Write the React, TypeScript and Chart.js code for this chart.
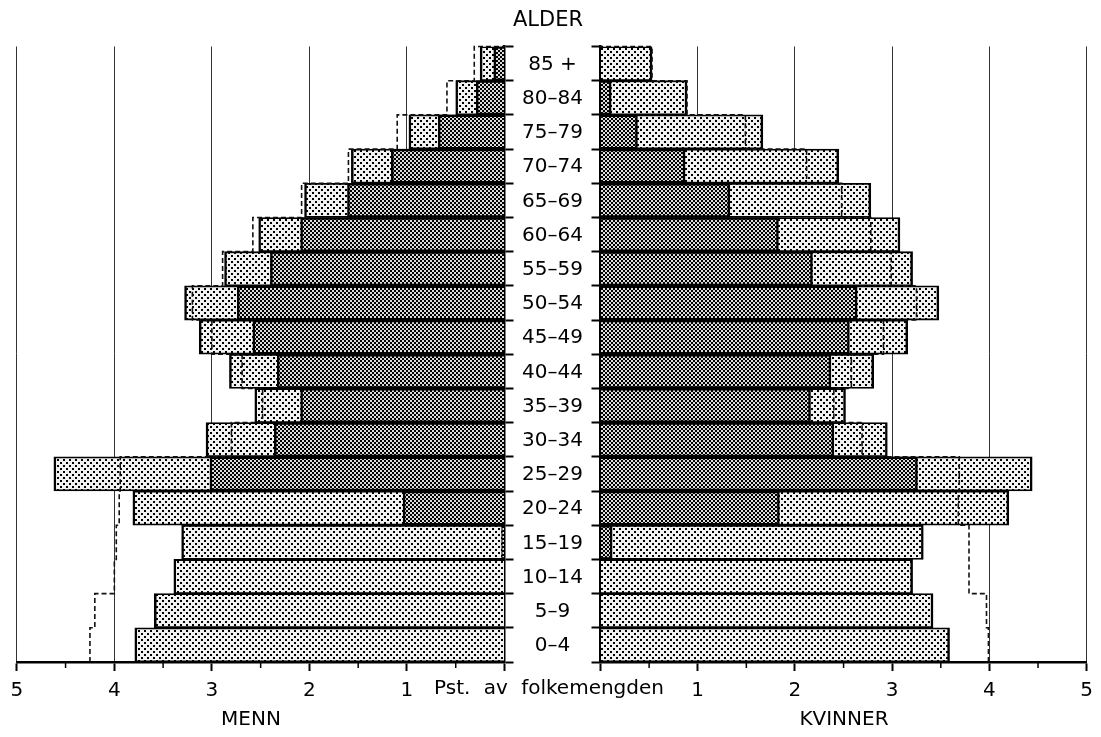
import React, { useEffect, useRef } from 'react';
import { Chart, registerables } from 'chart.js';

Chart.register(...registerables);

// Age groups, youngest first (drawn bottom to top)
const ageGroups = ['0–4', '5–9', '10–14', '15–19', '20–24', '25–29', '30–34', '35–39', '40–44', '45–49', '50–54', '55–59', '60–64', '65–69', '70–74', '75–79', '80–84', '85 +'];

// MENN (per cent of population)
const menTotal = [3.79, 3.59, 3.39, 3.31, 3.81, 4.62, 3.06, 2.56, 2.82, 3.13, 3.28, 2.87, 2.52, 2.05, 1.57, 0.98, 0.50, 0.25];
const menDark = [0, 0, 0, 0.03, 1.04, 3.02, 2.36, 2.09, 2.33, 2.58, 2.74, 2.40, 2.09, 1.61, 1.16, 0.68, 0.29, 0.11];
const menDashed = [4.25, 4.20, 4.00, 3.98, 3.95, 3.94, 2.80, 2.48, 2.69, 3.00, 3.20, 2.89, 2.58, 2.08, 1.60, 1.10, 0.59, 0.31];

// KVINNER (per cent of population)
const womenTotal = [3.59, 3.42, 3.21, 3.32, 4.20, 4.44, 2.95, 2.52, 2.81, 3.16, 3.48, 3.21, 3.08, 2.78, 2.45, 1.67, 0.89, 0.53];
const womenDark = [0, 0, 0, 0.12, 1.84, 3.26, 2.40, 2.16, 2.37, 2.56, 2.64, 2.18, 1.83, 1.33, 0.87, 0.38, 0.11, 0];
const womenDashed = [3.99, 3.97, 3.79, 3.79, 3.68, 3.69, 2.69, 2.40, 2.58, 2.91, 3.25, 2.99, 2.78, 2.48, 2.12, 1.49, 0.89, 0.53];

const xMin = 0;
const xMax = 5;
const xStep = 1;
const minorStep = 0.5;

const FONT = '"DejaVu Sans", sans-serif';

function stepPoints(vals: number[]) {
  const pts: { x: number; y: number }[] = [];
  vals.forEach((v, i) => {
    pts.push({ x: v, y: i - 0.5 });
    pts.push({ x: v, y: i + 0.5 });
  });
  pts.push({ x: 0, y: vals.length - 0.5 });
  return pts;
}

function makePattern(kind: 'light' | 'dark'): CanvasPattern | string {
  const c = document.createElement('canvas');
  const ctx = c.getContext('2d');
  if (!ctx) return kind === 'light' ? '#bbbbbb' : '#707070';
  if (kind === 'light') {
    c.width = 6; c.height = 6;
    ctx.fillStyle = '#f2f2f2';
    ctx.fillRect(0, 0, 6, 6);
    ctx.fillStyle = '#000000';
    ctx.fillRect(0, 0, 2, 2);
    ctx.fillRect(3, 3, 2, 2);
  } else {
    c.width = 4; c.height = 4;
    ctx.fillStyle = '#dcdcdc';
    ctx.fillRect(0, 0, 4, 4);
    ctx.fillStyle = '#000000';
    ctx.fillRect(0, 0, 2, 2);
    ctx.fillRect(2, 2, 2, 2);
  }
  const p = ctx.createPattern(c, 'repeat');
  return p || (kind === 'light' ? '#bbbbbb' : '#707070');
}

const minorTicksPlugin = {
  id: 'minorTicks',
  afterDraw(chart: any) {
    const xs = chart.scales.x;
    const ctx = chart.ctx;
    const bottom = chart.chartArea.bottom;
    ctx.save();
    ctx.strokeStyle = '#000';
    ctx.lineWidth = 1.5;
    for (let v = xMin + minorStep; v < xMax; v += xStep) {
      const px = xs.getPixelForValue(v);
      ctx.beginPath();
      ctx.moveTo(px, bottom);
      ctx.lineTo(px, bottom + 6);
      ctx.stroke();
    }
    ctx.restore();
  },
};

const ageLabelPlugin = {
  id: 'ageLabels',
  afterDraw(chart: any) {
    const opts = chart.options.plugins.ageLabels;
    if (!opts || !opts.show) return;
    const ys = chart.scales.y;
    const ctx = chart.ctx;
    ctx.save();
    ctx.font = '20px ' + FONT;
    ctx.fillStyle = '#000';
    ctx.textAlign = 'center';
    ctx.textBaseline = 'middle';
    const cx = chart.chartArea.right + 48;
    ageGroups.forEach((l, i) => {
      ctx.fillText(l, cx, ys.getPixelForValue(i) + 1);
    });
    ctx.restore();
  },
};

function buildConfig(isLeft: boolean, total: number[], dark: number[], dashed: number[], lightFill: any, darkFill: any): any {
  return {
    type: 'bar',
    data: {
      labels: ageGroups,
      datasets: [
        {
          type: 'line',
          data: stepPoints(dashed),
          xAxisID: 'x',
          yAxisID: 'y2',
          borderColor: '#111',
          borderWidth: 1.6,
          borderDash: [5, 3],
          pointRadius: 0,
          fill: false,
          tension: 0,
          clip: 6,
          order: 0,
        },
        {
          type: 'bar',
          data: dark,
          xAxisID: 'x',
          yAxisID: 'y',
          backgroundColor: darkFill,
          borderColor: '#000',
          borderWidth: 2.5,
          borderSkipped: 'start',
          barPercentage: 1,
          categoryPercentage: 1,
          grouped: false,
          order: 1,
        },
        {
          type: 'bar',
          data: total,
          xAxisID: 'x',
          yAxisID: 'y',
          backgroundColor: lightFill,
          borderColor: '#000',
          borderWidth: { top: 1.8, bottom: 1.8, left: 2.5, right: 2.5 },
          borderSkipped: 'start',
          barPercentage: 1,
          categoryPercentage: 1,
          grouped: false,
          order: 2,
        },
      ],
    },
    options: {
      indexAxis: 'y',
      responsive: false,
      animation: false,
      devicePixelRatio: 1,
      layout: {
        padding: isLeft
          ? { left: 16.8, right: 0, top: 46.5, bottom: 0 }
          : { left: 0, right: 10.5, top: 46.5, bottom: 0 },
      },
      plugins: {
        legend: { display: false },
        tooltip: { enabled: false },
        title: { display: false },
        ageLabels: { show: isLeft },
      },
      scales: {
        x: {
          type: 'linear',
          min: xMin,
          max: xMax,
          reverse: isLeft,
          position: 'bottom',
          afterFit: (s: any) => { s.height = 75; },
          ticks: {
            stepSize: xStep,
            autoSkip: false,
            color: '#000',
            padding: 8,
            font: { family: FONT, size: 20 },
            callback: (v: any) => (v === 0 ? '' : String(v)),
          },
          grid: {
            color: (c: any) => (c.tick && c.tick.value === 0 ? 'rgba(0,0,0,0)' : '#333'),
            lineWidth: 1,
            drawTicks: true,
            tickLength: 9,
            tickColor: '#000',
            tickWidth: 2,
          },
          border: { display: true, color: '#000', width: 2.5 },
        },
        y: {
          type: 'category',
          position: isLeft ? 'right' : 'left',
          reverse: true,
          offset: true,
          afterFit: (s: any) => { s.width = isLeft ? 96.5 : 47.5; },
          ticks: { display: false },
          grid: {
            offset: true,
            drawOnChartArea: false,
            drawTicks: true,
            tickLength: 9,
            tickColor: '#000',
            tickWidth: 2,
            color: '#000',
          },
          border: { display: true, color: '#000', width: 2.5 },
        },
        y2: {
          type: 'linear',
          display: false,
          offset: false,
          grace: 0,
          min: -0.5,
          max: ageGroups.length - 0.5,
        },
      },
    },
    plugins: [minorTicksPlugin, ageLabelPlugin],
  };
}

export default function App() {
  const leftRef = useRef<HTMLCanvasElement>(null);
  const rightRef = useRef<HTMLCanvasElement>(null);

  useEffect(() => {
    if (!leftRef.current || !rightRef.current) return;
    const light = makePattern('light');
    const dark = makePattern('dark');
    const c1 = new Chart(leftRef.current, buildConfig(true, menTotal, menDark, menDashed, light, dark));
    const c2 = new Chart(rightRef.current, buildConfig(false, womenTotal, womenDark, womenDashed, light, dark));
    return () => {
      c1.destroy();
      c2.destroy();
    };
  }, []);

  const textBase: React.CSSProperties = {
    position: 'absolute',
    fontFamily: FONT,
    color: '#000',
    textAlign: 'center',
    whiteSpace: 'nowrap',
    lineHeight: 1,
  };

  return (
    <div style={{ position: 'fixed', left: 0, top: 0, width: 1101, height: 737, background: '#fff', overflow: 'hidden' }}>
      <canvas ref={leftRef} width={601} height={737} style={{ position: 'absolute', left: 0, top: 0, width: 601, height: 737 }} />
      <canvas ref={rightRef} width={548} height={737} style={{ position: 'absolute', left: 553, top: 0, width: 548, height: 737 }} />
      <div style={{ ...textBase, left: 448, top: 8.5, width: 200, fontSize: 21 }}>ALDER</div>
      <div style={{ ...textBase, left: 349, top: 677, width: 400, fontSize: 20, wordSpacing: 7 }}>Pst. av folkemengden</div>
      <div style={{ ...textBase, left: 151, top: 708, width: 200, fontSize: 20 }}>MENN</div>
      <div style={{ ...textBase, left: 744, top: 708, width: 200, fontSize: 20 }}>KVINNER</div>
    </div>
  );
}
